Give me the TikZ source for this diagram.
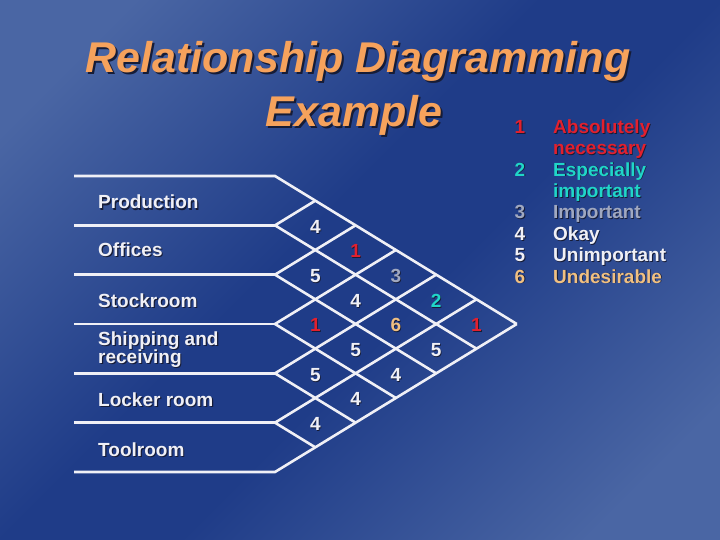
\documentclass[tikz,border=0pt]{standalone}
\usepackage{fontspec}
\setmainfont{Liberation Sans}
\definecolor{bgl}{RGB}{74,102,164}
\definecolor{bgd}{RGB}{31,60,136}
\definecolor{ttl}{RGB}{246,162,92}
\definecolor{shd}{RGB}{22,28,55}
\definecolor{cred}{RGB}{226,32,46}
\definecolor{ccyan}{RGB}{32,214,200}
\definecolor{cgray}{RGB}{160,168,192}
\definecolor{cwhite}{RGB}{240,240,246}
\definecolor{ctan}{RGB}{240,192,130}
\newcommand{\shtx}[3][1.2pt]{\makebox[0pt][l]{\hspace*{#1}\raisebox{-#1}{\color{shd}#3}}{\color{#2}#3}}
\pgfdeclarehorizontalshading{bgshade}{100bp}{color(0bp)=(bgl); color(22bp)=(bgl); color(45bp)=(bgd); color(55bp)=(bgd); color(78bp)=(bgl); color(100bp)=(bgl)}
\tikzset{
  gridline/.style={draw=cwhite, line width=2.6pt, line join=miter},
  titletext/.style={inner sep=0pt, font=\fontsize{43}{48}\selectfont\bfseries\itshape},
  dept/.style={inner sep=0pt, anchor=base west, align=left, font=\fontsize{19}{19.5}\selectfont\bfseries},
  cellnum/.style={inner sep=0pt, font=\fontsize{19}{20}\selectfont\bfseries},
  legnum/.style={inner sep=0pt, anchor=base, font=\fontsize{19}{20}\selectfont\bfseries},
  legtext/.style={inner sep=0pt, anchor=base west, font=\fontsize{19}{20}\selectfont\bfseries},
}
\begin{document}
\begin{tikzpicture}[x=1pt, y=-1pt]
\useasboundingbox (0,0) rectangle (720,540);
\shade[shading=bgshade, shading angle=-45] (0,0) rectangle (720,540);

% title
\node[titletext, anchor=base, text depth=0pt] (t1) at (358,73) {\shtx[2pt]{ttl}{Relationship Diagramming}};
\node[titletext, anchor=base, text depth=0pt] (t2) at (354,127) {\shtx[2pt]{ttl}{Example}};

% grid coordinates
\foreach \i in {0,...,6} {
  \coordinate (L\i) at (74, {176+49.333*\i});
  \coordinate (P\i) at (275, {176+49.333*\i});
  \coordinate (D\i) at ({275+(6-\i)*40.3}, {324+24.667*\i});
  \coordinate (U\i) at ({275+\i*40.3}, {176+24.667*\i});
}
\draw[gridline] (L0) -- (P0) -- (D0);
\draw[gridline] (L6) -- (P6) -- (U6);
\foreach \i in {1,...,5} {
  \draw[gridline] (L\i) -- (P\i);
  \draw[gridline] (U\i) -- (P\i) -- (D\i);
}

% department labels
\node[dept] (d1) at (98,209) {\shtx{cwhite}{Production}};
\node[dept] (d2) at (98,256) {\shtx{cwhite}{Offices}};
\node[dept] (d3) at (98,307.5) {\shtx{cwhite}{Stockroom}};
\node[dept] (d4) at (98,363.5) {\shtx{cwhite}{Shipping and}\\[-1pt]\shtx{cwhite}{receiving}};
\node[dept] (d5) at (98,406.5) {\shtx{cwhite}{Locker room}};
\node[dept] (d6) at (98,456.5) {\shtx{cwhite}{Toolroom}};

% cell values
\foreach \i/\j/\v/\c in {1/2/4/cwhite, 2/3/5/cwhite, 3/4/1/cred, 4/5/5/cwhite, 5/6/4/cwhite,
  1/3/1/cred, 2/4/4/cwhite, 3/5/5/cwhite, 4/6/4/cwhite,
  1/4/3/cgray, 2/5/6/ctan, 3/6/4/cwhite,
  1/5/2/ccyan, 2/6/5/cwhite,
  1/6/1/cred} {
  \node[cellnum] (c\i\j) at ({275+(\j-\i)*40.3}, {202.5+24.667*(\i+\j-2)}) {\shtx[0.8pt]{\c}{\v}};
}

% legend
\node[legnum] (n1) at (520,133.3) {\shtx[0.8pt]{cred}{1}};
\node[legtext] (l1) at (553,133.3) {\shtx[0.8pt]{cred}{Absolutely}};
\node[legtext] (l1b) at (553,154.7) {\shtx[0.8pt]{cred}{necessary}};
\node[legnum] (n2) at (520,176.1) {\shtx[0.8pt]{ccyan}{2}};
\node[legtext] (l2) at (553,176.1) {\shtx[0.8pt]{ccyan}{Especially}};
\node[legtext] (l2b) at (553,197.5) {\shtx[0.8pt]{ccyan}{important}};
\node[legnum] (n3) at (520,218.9) {\shtx[0.8pt]{cgray}{3}};
\node[legtext] (l3) at (553,218.9) {\shtx[0.8pt]{cgray}{Important}};
\node[legnum] (n4) at (520,240.3) {\shtx[0.8pt]{cwhite}{4}};
\node[legtext] (l4) at (553,240.3) {\shtx[0.8pt]{cwhite}{Okay}};
\node[legnum] (n5) at (520,261.7) {\shtx[0.8pt]{cwhite}{5}};
\node[legtext] (l5) at (553,261.7) {\shtx[0.8pt]{cwhite}{Unimportant}};
\node[legnum] (n6) at (520,283.1) {\shtx[0.8pt]{ctan}{6}};
\node[legtext] (l6) at (553,283.1) {\shtx[0.8pt]{ctan}{Undesirable}};
\end{tikzpicture}
\end{document}
